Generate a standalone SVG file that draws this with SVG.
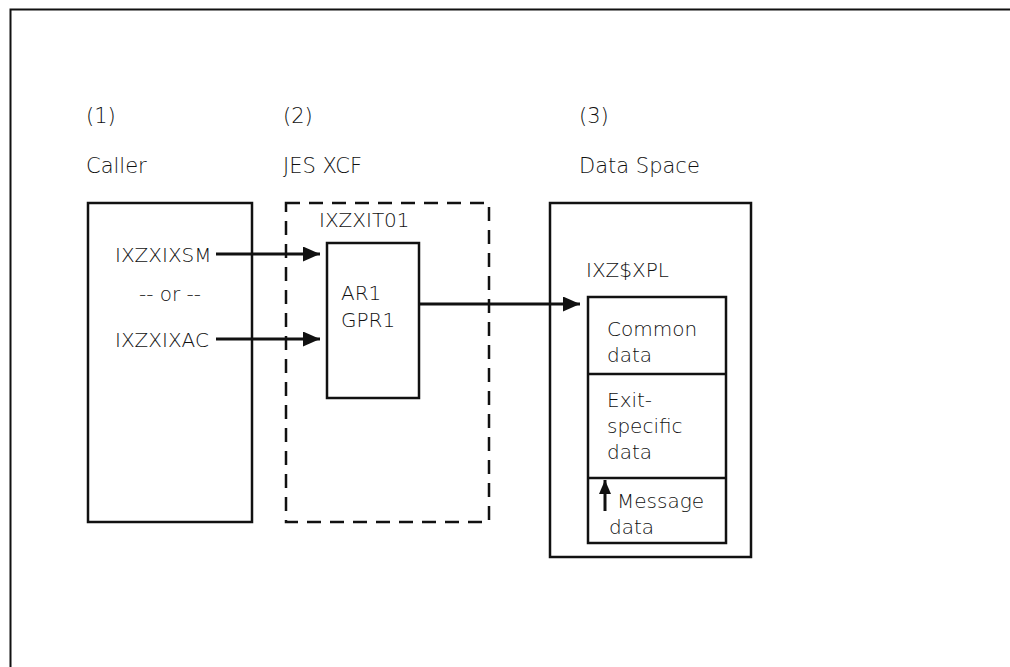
<svg xmlns="http://www.w3.org/2000/svg" width="1010" height="667" viewBox="0 0 1010 667">
<style>
text{font-family:"DejaVu Sans","Liberation Sans",sans-serif;font-size:20px;font-weight:300;fill:#111}
.hd{font-size:21px}
.box{fill:none;stroke:#111;stroke-width:2.5}
.dash{fill:none;stroke:#111;stroke-width:2.5;stroke-dasharray:14 9}
.conn{fill:none;stroke:#111;stroke-width:3}
</style>
<defs>
<marker id="ah" markerWidth="17" markerHeight="15" refX="17" refY="7.5" orient="auto" markerUnits="userSpaceOnUse">
<path d="M0,0 L17,7.5 L0,15 Z" fill="#111"/>
</marker>
<marker id="ahs" markerWidth="14" markerHeight="12" refX="14" refY="6" orient="auto" markerUnits="userSpaceOnUse">
<path d="M0,0 L14,6 L0,12 Z" fill="#111"/>
</marker>
</defs>
<rect width="1010" height="667" fill="#fff"/>
<path d="M10.5,667 V9.5 H1010" fill="none" stroke="#111" stroke-width="2"/>
<g id="headers">
<text class="hd" x="86" y="123">(1)</text>
<text class="hd" x="283" y="123">(2)</text>
<text class="hd" x="579" y="123">(3)</text>
<text class="hd" x="86" y="173">Caller</text>
<text class="hd" x="283" y="173">JES XCF</text>
<text class="hd" x="579" y="173">Data Space</text>
</g>
<g id="caller">
<rect class="box" x="88" y="203" width="164" height="319"/>
<text x="115" y="262">IXZXIXSM</text>
<text x="170" y="301" text-anchor="middle">-- or --</text>
<text x="115" y="347">IXZXIXAC</text>
</g>
<g id="jesxcf">
<rect class="dash" x="286" y="203" width="203" height="319"/>
<text x="319" y="227">IXZXIT01</text>
</g>
<g id="ixzxit01">
<rect class="box" x="327" y="243" width="92" height="155"/>
<text x="341" y="300">AR1</text>
<text x="341" y="327">GPR1</text>
</g>
<g id="dataspace">
<rect class="box" x="550" y="203" width="201" height="354"/>
<text x="586" y="277">IXZ$XPL</text>
</g>
<g id="ixzxpl">
<rect class="box" x="588" y="297" width="138" height="246"/>
<line class="box" x1="588" y1="374" x2="726" y2="374"/>
<line class="box" x1="588" y1="478" x2="726" y2="478"/>
<text x="607" y="336">Common</text>
<text x="607" y="362">data</text>
<text x="607" y="407">Exit-</text>
<text x="607" y="433">specific</text>
<text x="607" y="459">data</text>
<text x="617" y="508">Message</text>
<text x="609" y="534">data</text>
</g>
<g id="connectors">
<line class="conn" x1="216" y1="254" x2="320" y2="254" marker-end="url(#ah)"/>
<line class="conn" x1="216" y1="339" x2="320" y2="339" marker-end="url(#ah)"/>
<line class="conn" x1="419" y1="304" x2="580" y2="304" marker-end="url(#ah)"/>
<line class="conn" x1="605" y1="511" x2="605" y2="480" marker-end="url(#ahs)"/>
</g>
</svg>
